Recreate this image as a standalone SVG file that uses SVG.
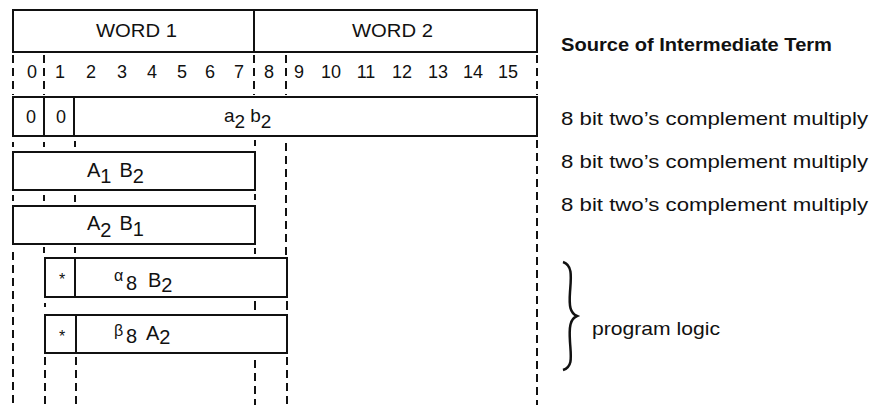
<svg xmlns="http://www.w3.org/2000/svg" width="874" height="405" viewBox="0 0 874 405">
<style>
.box{fill:none;stroke:#111;stroke-width:2}
.sol{stroke:#111;stroke-width:2}
.dash{stroke:#111;stroke-width:2;stroke-dasharray:8 5;fill:none}
.t{font-family:"Liberation Sans",Arial,sans-serif;font-size:18px;fill:#111}
.r{font-family:"Liberation Sans",Arial,sans-serif;font-size:19px;fill:#111}
.b{font-weight:bold}
.m{text-anchor:middle}
</style>
<rect width="874" height="405" fill="#fff"/>
<g id="header">
<rect class="box" x="13" y="10" width="524" height="42"/>
<line class="sol" x1="254" y1="10" x2="254" y2="52"/>
<text class="t" x="96" y="37" textLength="81" lengthAdjust="spacingAndGlyphs">WORD 1</text>
<text class="t" x="352" y="37" textLength="81" lengthAdjust="spacingAndGlyphs">WORD 2</text>
</g>
<g id="bits">
<line class="sol" x1="13" y1="52" x2="537" y2="52"/>
<g class="t m">
<text x="32" y="78">0</text><text x="60" y="78">1</text><text x="91" y="78">2</text><text x="122" y="78">3</text>
<text x="152" y="78">4</text><text x="182" y="78">5</text><text x="210" y="78">6</text><text x="239" y="78">7</text>
<text x="269" y="78">8</text><text x="299" y="78">9</text><text x="331" y="78">10</text><text x="366" y="78">11</text>
<text x="402" y="78">12</text><text x="438" y="78">13</text><text x="473" y="78">14</text><text x="508" y="78">15</text>
</g>
</g>
<g id="a2b2">
<rect class="box" x="13" y="97" width="524" height="39"/>
<line class="sol" x1="44" y1="97" x2="44" y2="136"/>
<line class="sol" x1="74" y1="97" x2="74" y2="136"/>
<text class="t m" x="31" y="123">0</text>
<text class="t m" x="61" y="123">0</text>
<text class="t" x="224" y="122" style="font-size:19px">a<tspan dy="6">2</tspan><tspan dx="5" dy="-6">b</tspan><tspan dy="6">2</tspan></text>
</g>
<g id="A1B2">
<rect class="box" x="13" y="152" width="242" height="38"/>
<text class="t" x="87" y="177" style="font-size:20px">A<tspan dy="6">1</tspan><tspan dx="8" dy="-6">B</tspan><tspan dy="6">2</tspan></text>
</g>
<g id="A2B1">
<rect class="box" x="13" y="206" width="242" height="38"/>
<text class="t" x="87" y="230" style="font-size:20px">A<tspan dy="7">2</tspan><tspan dx="8" dy="-7">B</tspan><tspan dy="6">1</tspan></text>
</g>
<g id="alpha8B2">
<rect class="box" x="45" y="258" width="242" height="39"/>
<line class="sol" x1="75" y1="258" x2="75" y2="297"/>
<text class="t m" x="62" y="285" style="font-size:16px">*</text>
<text class="t" x="114" y="281" style="font-size:16px">α</text>
<text class="t" x="126" y="290" style="font-size:20px">8</text>
<text class="t" x="148" y="287" style="font-size:20px">B<tspan dy="5">2</tspan></text>
</g>
<g id="beta8A2">
<rect class="box" x="45" y="315" width="242" height="38"/>
<line class="sol" x1="76" y1="315" x2="76" y2="353"/>
<text class="t m" x="62" y="342" style="font-size:16px">*</text>
<text class="t" x="114" y="336" style="font-size:16px">β</text>
<text class="t" x="126" y="343" style="font-size:20px">8</text>
<text class="t" x="146" y="340" style="font-size:20px">A<tspan dy="4">2</tspan></text>
</g>
<g id="connectors">
<line class="dash" x1="13" y1="55" x2="13" y2="95"/>
<line class="dash" x1="44" y1="55" x2="44" y2="95"/>
<line class="dash" x1="254" y1="55" x2="254" y2="95"/>
<line class="dash" x1="286" y1="55" x2="286" y2="95"/>
<line class="dash" x1="537" y1="55" x2="537" y2="95"/>
<g class="sol">
<line x1="13" y1="142" x2="13" y2="147"/><line x1="44" y1="142" x2="44" y2="147"/><line x1="75" y1="141" x2="75" y2="147"/><line x1="255" y1="140" x2="255" y2="146"/>
<line x1="13" y1="195" x2="13" y2="201"/><line x1="44" y1="195" x2="44" y2="201"/><line x1="75" y1="195" x2="75" y2="202"/><line x1="255" y1="194" x2="255" y2="200"/>
<line x1="44" y1="247" x2="44" y2="253"/><line x1="75" y1="247" x2="75" y2="253"/><line x1="255" y1="248" x2="255" y2="254"/>
<line x1="45" y1="303" x2="45" y2="307"/><line x1="255" y1="301" x2="255" y2="310"/><line x1="287" y1="301" x2="287" y2="310"/>
</g>
<line class="dash" x1="286" y1="143" x2="286" y2="256"/>
<line class="dash" x1="537" y1="140" x2="537" y2="405"/>
<line class="dash" x1="13" y1="252" x2="13" y2="405"/>
<line class="dash" x1="45" y1="357" x2="45" y2="405"/>
<line class="dash" x1="76" y1="357" x2="76" y2="405"/>
<line class="dash" x1="255" y1="360" x2="255" y2="405"/>
<line class="dash" x1="287" y1="357" x2="287" y2="405"/>
</g>
<g id="legend">
<text class="r b" x="561" y="51" textLength="271" lengthAdjust="spacingAndGlyphs">Source of Intermediate Term</text>
<text class="r" x="561" y="125" textLength="307" lengthAdjust="spacingAndGlyphs">8 bit two’s complement multiply</text>
<text class="r" x="561" y="168" textLength="307" lengthAdjust="spacingAndGlyphs">8 bit two’s complement multiply</text>
<text class="r" x="561" y="211" textLength="307" lengthAdjust="spacingAndGlyphs">8 bit two’s complement multiply</text>
<path d="M563,262 C573,265 571,278 570,292 C569,306 570,313 577,316 C570,319 569,327 570,342 C571,357 573,367 563,370" fill="none" stroke="#111" stroke-width="2.5"/>
<text class="r" x="592" y="335" textLength="128" lengthAdjust="spacingAndGlyphs">program logic</text>
</g>
</svg>
